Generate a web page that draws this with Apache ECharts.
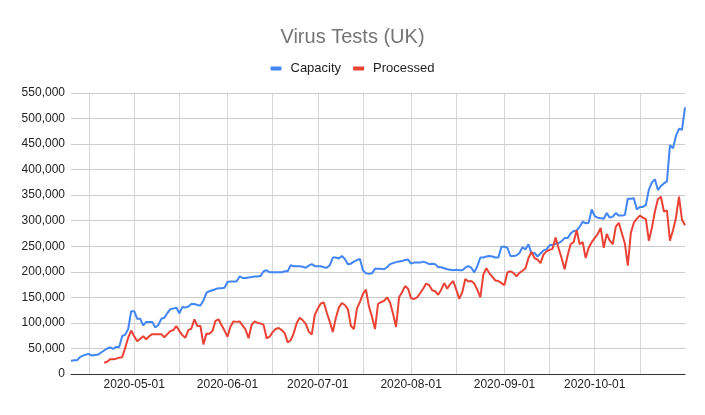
<!DOCTYPE html>
<html>
<head>
<meta charset="utf-8">
<title>Virus Tests (UK)</title>
<script src="https://cdn.jsdelivr.net/npm/echarts@6/dist/echarts.min.js"></script>
<style>
  html, body { margin: 0; padding: 0; background: #fff; }
  #chart { width: 705px; height: 415px; }
</style>
</head>
<body>
<div id="chart"></div>
<script>
// daily dates 2020-04-10 .. 2020-10-31
const startDate = '2020-04-10'
const dayCount = 205
const dates = []
for (let i = 0; i < dayCount; i++) {
  const d = new Date(startDate + 'T00:00:00Z')
  d.setUTCDate(d.getUTCDate() + i)
  dates.push(d.toISOString().slice(0, 10))
}

// values in thousands of tests
const capacity = [
  26, 27, 27, 33, 36, 38, 39, 36, 37, 38, 42, 46, 50, 52, 49, 53, 53, 74, 77, 88,
  123, 123, 108, 108, 95, 102, 102, 102, 91, 96, 108, 110, 119, 127, 128, 130, 119, 131, 130, 132,
  137, 137, 135, 134, 144, 159, 162, 164, 166, 168, 168, 169, 180, 181, 181, 181, 191, 188, 188, 189,
  190, 191, 191, 192, 201, 203, 199, 199, 199, 199, 199, 201, 201, 213, 211, 211, 211, 210, 208, 212,
  215, 211, 211, 211, 209, 208, 213, 228, 228, 226, 231, 225, 215, 216, 220, 223, 225, 203, 197, 196,
  197, 206, 206, 206, 205, 209, 215, 217, 219, 220, 221, 223, 224, 216, 218, 218, 218, 220, 218, 215,
  216, 215, 209, 209, 207, 205, 204, 203, 204, 203, 203, 208, 211, 208, 199, 211, 228, 228, 230, 231,
  230, 228, 228, 249, 249, 247, 231, 231, 232, 237, 248, 244, 254, 236, 237, 230, 236, 242, 244, 252,
  253, 255, 256, 260, 266, 266, 275, 280, 281, 288, 298, 295, 296, 322, 309, 306, 305, 304, 315, 306,
  308, 315, 310, 310, 311, 343, 343, 344, 322, 327, 327, 331, 361, 375, 381, 360, 368, 373, 377, 448,
  442, 466, 480, 478, 522
]
const processed = [
  null, null, null, null, null, null, null, null, null, null, null,
  22, 24, 29, 29, 30, 32, 33, 51, 71,
  85, 74, 64, 69, 74, 68, 74, 78, 78, 78, 78, 72, 78, 84, 86, 94, 84, 76, 71, 86,
  89, 107, 94, 94, 58, 79, 79, 84, 104, 107, 96, 85, 73, 93, 103, 102, 103, 95, 87, 70,
  96, 103, 100, 99, 96, 70, 73, 82, 88, 90, 86, 80, 62, 66, 80, 100, 110, 105, 98, 83,
  77, 116, 128, 138, 140, 120, 102, 82, 110, 130, 139, 135, 127, 94, 88, 128, 141, 157, 165, 132,
  112, 88, 137, 141, 143, 150, 140, 118, 92, 150, 160, 172, 167, 148, 147, 150, 158, 167, 177, 174,
  164, 162, 155, 165, 178, 167, 176, 182, 165, 147, 160, 186, 181, 182, 177, 165, 150, 195, 207, 197,
  190, 183, 182, 178, 174, 199, 201, 198, 191, 198, 202, 207, 227, 239, 227, 224, 217, 234, 240, 243,
  245, 267, 246, 227, 205, 232, 254, 258, 282, 254, 258, 227, 247, 258, 266, 274, 286, 247, 274, 261,
  254, 288, 296, 276, 256, 212, 276, 296, 304, 310, 306, 303, 261, 286, 318, 342, 347, 318, 320, 261,
  281, 306, 347, 302, 291
]

const yMax = 550000
const yStep = 50000

const toTests = (arr) => arr.map(v => (v == null ? null : v * 1000))

const chart = echarts.init(document.getElementById('chart'), null, { renderer: 'canvas' })
const font = 'Arial, "Liberation Sans", sans-serif'

const option = {
  backgroundColor: '#fff',
  animation: false,
  title: {
    text: 'Virus Tests (UK)',
    left: 'center',
    top: 22,
    textStyle: { fontFamily: font, fontSize: 20, fontWeight: 'normal', color: '#757575' }
  },
  legend: {
    top: 57,
    left: 'center',
    itemWidth: 11,
    itemHeight: 4,
    itemGap: 12,
    icon: 'roundRect',
    textStyle: { fontFamily: font, fontSize: 13, color: '#222', padding: [0, 0, 0, 4] },
    data: ['Capacity', 'Processed']
  },
  grid: { left: 71, right: 20, top: 93, bottom: 41 },
  xAxis: {
    type: 'category',
    data: dates,
    boundaryGap: false,
    axisLine: { lineStyle: { color: '#333', width: 1 } },
    axisTick: { show: false },
    axisLabel: {
      interval: (i, v) => v.endsWith('-01'),
      fontFamily: font,
      fontSize: 12,
      color: '#222',
      margin: 5
    },
    splitLine: {
      show: true,
      interval: (i, v) => v.endsWith('-01') || v.endsWith('-16'),
      lineStyle: { color: '#d6d6d6', width: 1 }
    }
  },
  yAxis: {
    type: 'value',
    min: 0,
    max: yMax,
    interval: yStep,
    axisLine: { show: false },
    axisTick: { show: false },
    axisLabel: {
      fontFamily: font,
      fontSize: 12,
      color: '#222',
      margin: 6,
      formatter: v => v.toLocaleString('en-US')
    },
    splitLine: { lineStyle: { color: '#cccccc', width: 1 } }
  },
  series: [
    {
      name: 'Capacity',
      type: 'line',
      data: toTests(capacity),
      showSymbol: false,
      symbol: 'none',
      color: '#4285F4',
      lineStyle: { width: 2 }
    },
    {
      name: 'Processed',
      type: 'line',
      data: toTests(processed),
      showSymbol: false,
      symbol: 'none',
      color: '#EA4335',
      lineStyle: { width: 2 }
    }
  ]
}

chart.setOption(option)
</script>
</body>
</html>
